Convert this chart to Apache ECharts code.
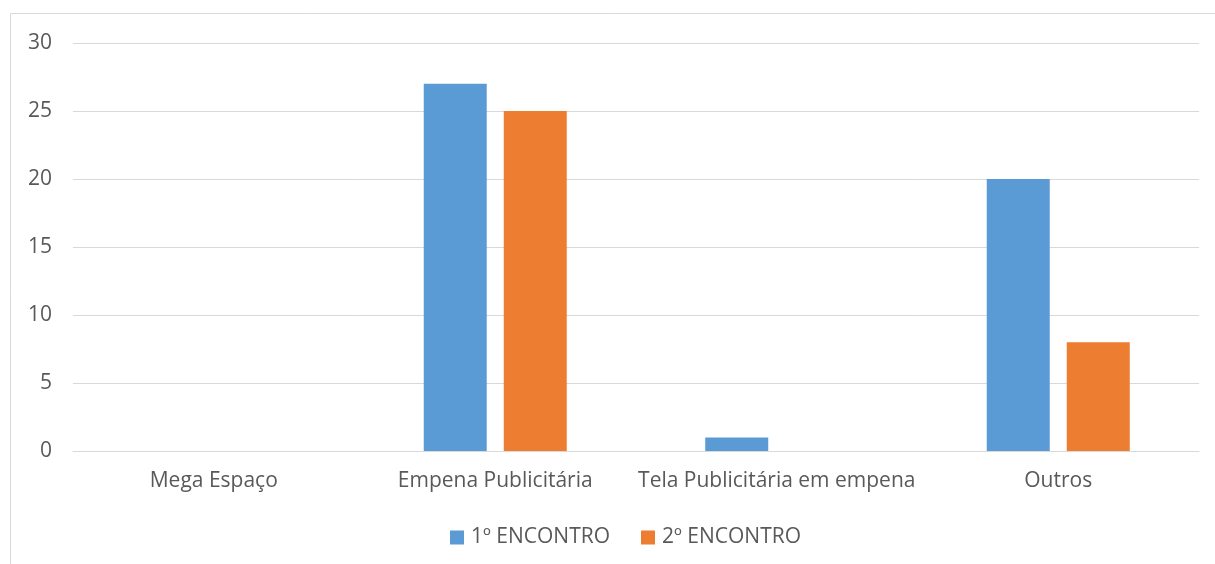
<!DOCTYPE html>
<html><head><meta charset="utf-8">
<script src="https://cdn.jsdelivr.net/npm/echarts@6/dist/echarts.min.js"></script>
<style>html,body{margin:0;padding:0;background:#fff}#c{width:1215px;height:564px}</style>
</head><body><div id="c"></div>
<script>
const categories = ["Mega Espaço", "Empena Publicitária", "Tela Publicitária em empena", "Outros"];
const seriesNames = ["1º ENCONTRO", "2º ENCONTRO"];
const encontro1 = [0, 27, 1, 20];
const encontro2 = [0, 25, 0, 8];
const yTicks = [0, 5, 10, 15, 20, 25, 30];

const FONT = "Open Sans";
const FS = 21;
const chart = echarts.init(document.getElementById('c'), null, {renderer: 'canvas'});
chart.setOption({
  animation: false,
  textStyle: {fontFamily: FONT},
  graphic: [{
    type: 'rect', silent: true, z: -1,
    shape: {x: 10.5, y: 13.5, width: 1300, height: 700},
    style: {fill: 'none', stroke: '#d9d9d9', lineWidth: 1}
  }],
  grid: {left: 73, right: 16, top: 43, bottom: 113, containLabel: false},
  legend: {
    data: seriesNames, bottom: 16, left: 450, padding: 0,
    itemWidth: 14, itemHeight: 14, itemGap: 31, icon: 'rect',
    textStyle: {fontFamily: FONT, fontSize: 21, color: '#595959', padding: [0, 0, 0, 2]}
  },
  xAxis: {
    type: 'category', data: categories,
    axisLine: {lineStyle: {color: '#d9d9d9'}},
    axisTick: {show: false},
    axisLabel: {fontFamily: FONT, fontSize: FS, color: '#595959', margin: 20, interval: 0}
  },
  yAxis: {
    type: 'value', min: yTicks[0], max: yTicks[yTicks.length - 1], interval: 5,
    axisLine: {show: false}, axisTick: {show: false},
    splitLine: {lineStyle: {color: '#d9d9d9', width: 1}},
    axisLabel: {fontFamily: FONT, fontSize: FS, color: '#595959', margin: 21}
  },
  series: [
    {name: seriesNames[0], type: 'bar', data: encontro1, barWidth: 63, barGap: '27%',
     itemStyle: {color: '#5b9bd5'}},
    {name: seriesNames[1], type: 'bar', data: encontro2, barWidth: 63,
     itemStyle: {color: '#ed7d31'}}
  ]
});
</script></body></html>
